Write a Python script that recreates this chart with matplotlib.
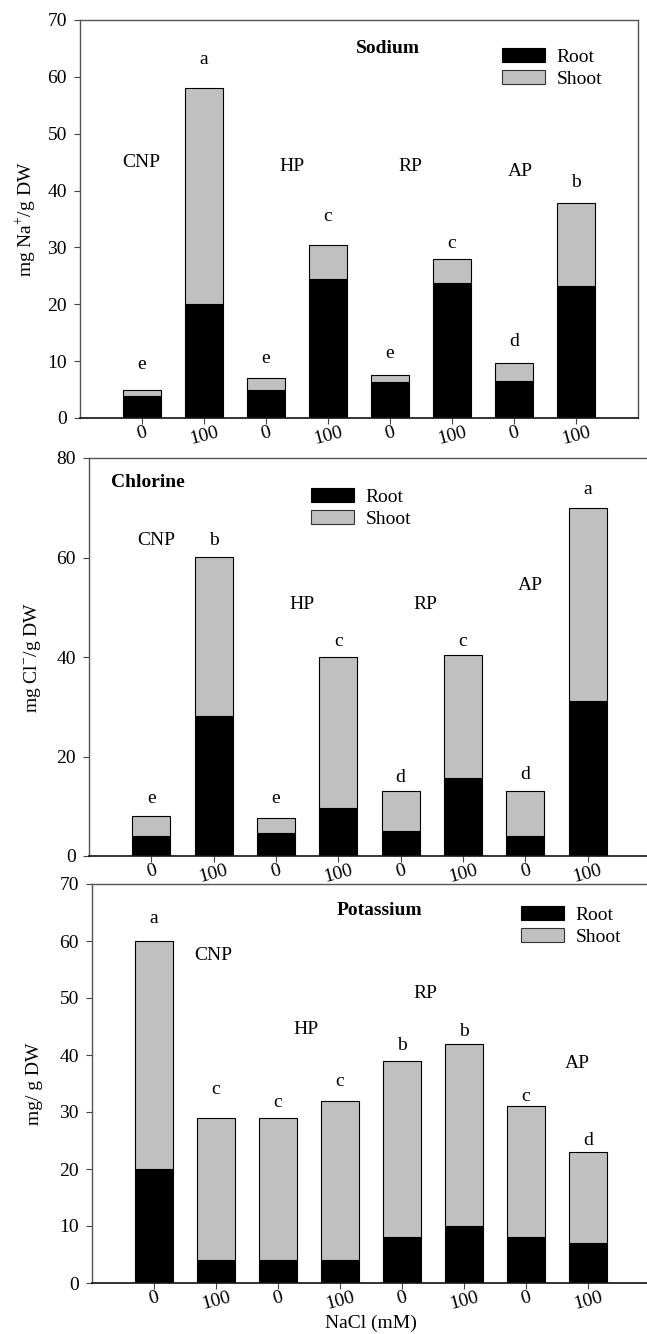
import matplotlib
matplotlib.use('Agg')
import matplotlib.pyplot as plt
from matplotlib.patches import Patch
import numpy as np

plt.rcParams['font.family'] = ['Liberation Serif', 'DejaVu Serif']
plt.rcParams['font.size'] = 14
plt.rcParams['mathtext.fontset'] = 'custom'
plt.rcParams['mathtext.rm'] = 'Liberation Serif'

# x categories (NaCl mM) for the four plant groups
nacl = ['0', '100', '0', '100', '0', '100', '0', '100']
groups = ['CNP', 'HP', 'RP', 'AP']

# Sodium (mg Na+/g DW): root part and total (root + shoot)
na_root = [3.9, 20.0, 5.0, 24.5, 6.4, 23.8, 6.5, 23.2]
na_total = [4.9, 58.0, 7.0, 30.5, 7.5, 28.0, 9.7, 37.8]
na_letters = ['e', 'a', 'e', 'c', 'e', 'c', 'd', 'b']

# Chlorine (mg Cl-/g DW)
cl_root = [4.1, 28.2, 4.7, 9.7, 5.1, 15.6, 4.1, 31.1]
cl_total = [8.0, 60.0, 7.6, 40.0, 13.0, 40.5, 13.0, 70.0]
cl_letters = ['e', 'b', 'e', 'c', 'd', 'c', 'd', 'a']

# Potassium (mg/g DW)
k_root = [20.0, 4.0, 4.0, 4.0, 8.0, 10.0, 8.0, 7.0]
k_total = [60.0, 29.0, 29.0, 32.0, 39.0, 42.0, 31.0, 23.0]
k_letters = ['a', 'c', 'c', 'c', 'b', 'b', 'c', 'd']

ROOT_C = 'black'
SHOOT_C = '#c0c0c0'
FS = 14

fig = plt.figure(figsize=(6.47, 13.34), dpi=100)

W = 558 / 647
ax1 = fig.add_axes([80 / 647, 1 - 418 / 1334, W, 398 / 1334])
ax2 = fig.add_axes([89 / 647, 1 - 856 / 1334, 561 / 647, 398 / 1334])
ax3 = fig.add_axes([92 / 647, 1 - 1283 / 1334, W, 399 / 1334])


def draw_panel(ax, root, total, letters, letter_y, ymax, ystep):
    x = np.arange(1, len(root) + 1)
    shoot = [t - r for r, t in zip(root, total)]
    ax.bar(x, root, width=0.61, color=ROOT_C, edgecolor='black', linewidth=0.8, zorder=2)
    ax.bar(x, shoot, bottom=root, width=0.61, color=SHOOT_C, edgecolor='black',
           linewidth=0.8, zorder=2)
    for xi, lab, ly in zip(x, letters, letter_y):
        ax.text(xi, ly, lab, ha='center', va='center', fontsize=FS)
    ax.set_xlim(0, 9)
    ax.set_ylim(0, ymax)
    ax.set_yticks(np.arange(0, ymax + 1, ystep))
    ax.set_xticks(x)
    ax.set_xticklabels(nacl, rotation=15)
    ax.tick_params(axis='y', direction='out', length=4.5, width=0.8, pad=5,
                   color='#444444', labelsize=FS)
    ax.tick_params(axis='x', direction='out', length=4, width=0.8, pad=0,
                   color='#444444', labelsize=FS)
    for side in ['left', 'top', 'right']:
        ax.spines[side].set_color('#555555')
        ax.spines[side].set_linewidth(1.0)
    ax.spines['bottom'].set_color('#111111')
    ax.spines['bottom'].set_linewidth(1.2)


def add_legend(ax, anchor):
    handles = [Patch(facecolor=ROOT_C, edgecolor='black', linewidth=0.8, label='Root'),
               Patch(facecolor=SHOOT_C, edgecolor='#333333', linewidth=0.8, label='Shoot')]
    ax.legend(handles=handles, loc='upper left', bbox_to_anchor=anchor, frameon=False,
              fontsize=FS, handlelength=2.2, handleheight=0.7, handletextpad=0.6,
              labelspacing=0.25, borderpad=0, borderaxespad=0)


# Sodium panel
draw_panel(ax1, na_root, na_total, na_letters,
           [9.4, 63.0, 10.4, 35.4, 11.3, 30.7, 13.4, 41.4], 70, 10)
ax1.text(4.97, 65.0, 'Sodium', ha='center', va='center', fontweight='bold', fontsize=FS)
for g, gx, gy in zip(groups, [0.98, 3.42, 5.32, 7.1], [45.0, 44.3, 44.3, 43.4]):
    ax1.text(gx, gy, g, ha='center', va='center', fontsize=FS)
ax1.set_ylabel('mg Na$^{+}$/g DW', fontsize=FS)
ax1.yaxis.set_label_coords(-0.075, 0.5)
add_legend(ax1, ((502 - 80) / 558, 1 - (48 - 20) / 398))

# Chlorine panel
draw_panel(ax2, cl_root, cl_total, cl_letters,
           [11.5, 63.5, 11.5, 43.2, 15.8, 43.2, 16.3, 73.7], 80, 20)
ax2.text(0.35, 75.0, 'Chlorine', ha='left', va='center', fontweight='bold', fontsize=FS)
for g, gx, gy in zip(groups, [1.08, 3.42, 5.39, 7.08], [63.5, 50.5, 50.5, 54.3]):
    ax2.text(gx, gy, g, ha='center', va='center', fontsize=FS)
ax2.set_ylabel('mg Cl$^{-}$/g DW', fontsize=FS)
ax2.yaxis.set_label_coords(-0.082, 0.5)
ax2.spines['right'].set_visible(False)
add_legend(ax2, ((311 - 89) / 561, 1 - (488 - 458) / 398))

# Potassium panel
draw_panel(ax3, k_root, k_total, k_letters,
           [64.0, 34.0, 31.6, 35.4, 41.7, 44.1, 32.8, 25.0], 70, 10)
ax3.text(4.63, 65.4, 'Potassium', ha='center', va='center', fontweight='bold', fontsize=FS)
for g, gx, gy in zip(groups, [1.95, 3.45, 5.37, 7.82], [57.4, 44.5, 50.8, 38.5]):
    ax3.text(gx, gy, g, ha='center', va='center', fontsize=FS)
ax3.set_ylabel('mg/ g DW', fontsize=FS)
ax3.yaxis.set_label_coords(-0.088, 0.5)
ax3.spines['right'].set_visible(False)
ax3.set_xlabel('NaCl (mM)', fontsize=FS)
ax3.xaxis.set_label_coords(0.5, (1283 - 1315) / 399)
add_legend(ax3, ((521 - 92) / 558, 1 - (906 - 884) / 399))

fig.savefig('out.png', dpi=100)
